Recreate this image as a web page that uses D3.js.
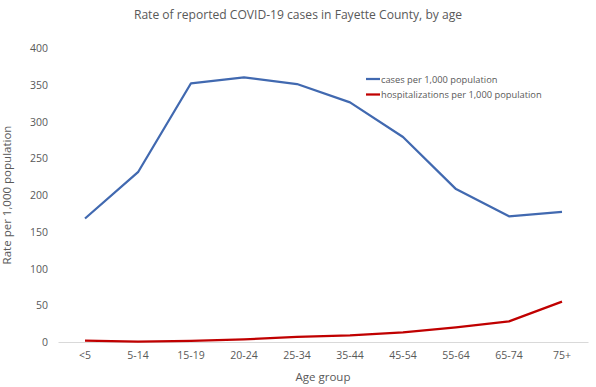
<!DOCTYPE html>
<html><head><meta charset="utf-8">
<script src="https://cdn.jsdelivr.net/npm/d3@7"></script>
<style>body{margin:0;background:#fff}svg{display:block}text{font-family:"Open Sans","Liberation Sans",sans-serif;fill:#595959}</style>
</head><body><svg id="c" width="596" height="387"></svg>
<script>
const categories = ["<5","5-14","15-19","20-24","25-34","35-44","45-54","55-64","65-74","75+"];
const cases = [168,231,352,360,351,326,279,208,171,177];
const hosp = [2,0.5,1.5,3.5,7,9,13,20,28,55];
const yTicks = [0,50,100,150,200,250,300,350,400];
const seriesNames = ["cases per 1,000 population","hospitalizations per 1,000 population"];
const colors = ["#4169B0","#C00000"];

const svg = d3.select("#c");
const x = d3.scaleBand().domain(categories).range([58.5,588.5]);
const y = d3.scaleLinear().domain([0,400]).range([342,48]);

svg.append("text").attr("x",298).attr("y",19).attr("text-anchor","middle").style("font-size","12.1px").text("Rate of reported COVID-19 cases in Fayette County, by age");

svg.append("g").selectAll("text").data(yTicks).join("text")
  .attr("x",48).attr("y",d=>y(d)+4).attr("text-anchor","end").style("font-size","10.5px").text(d=>d);

svg.append("line").attr("x1",58.5).attr("x2",588.5).attr("y1",342.5).attr("y2",342.5).attr("stroke","#d9d9d9").attr("stroke-width",1);

svg.append("g").selectAll("text").data(categories).join("text")
  .attr("x",d=>x(d)+x.bandwidth()/2).attr("y",359).attr("text-anchor","middle").style("font-size","10.5px").text(d=>d);

svg.append("text").attr("x",323).attr("y",381).attr("text-anchor","middle").style("font-size","11.5px").text("Age group");
svg.append("text").attr("transform","translate(11,195) rotate(-90)").attr("text-anchor","middle").style("font-size","11.5px").text("Rate per 1,000 population");

const line = d3.line().x((d,i)=>x(categories[i])+x.bandwidth()/2).y(d=>y(d));
[cases,hosp].forEach((s,k)=>{
  svg.append("path").datum(s).attr("d",line).attr("fill","none").attr("stroke",colors[k]).attr("stroke-width",2.25).attr("stroke-linejoin","round");
});

const lg = svg.append("g");
seriesNames.forEach((n,k)=>{
  const yy = 79 + k*15.5;
  lg.append("line").attr("x1",366).attr("x2",380).attr("y1",yy).attr("y2",yy).attr("stroke",colors[k]).attr("stroke-width",2.25);
  lg.append("text").attr("x",381).attr("y",yy+3.5).style("font-size","9.3px").text(n);
});
</script></body></html>
